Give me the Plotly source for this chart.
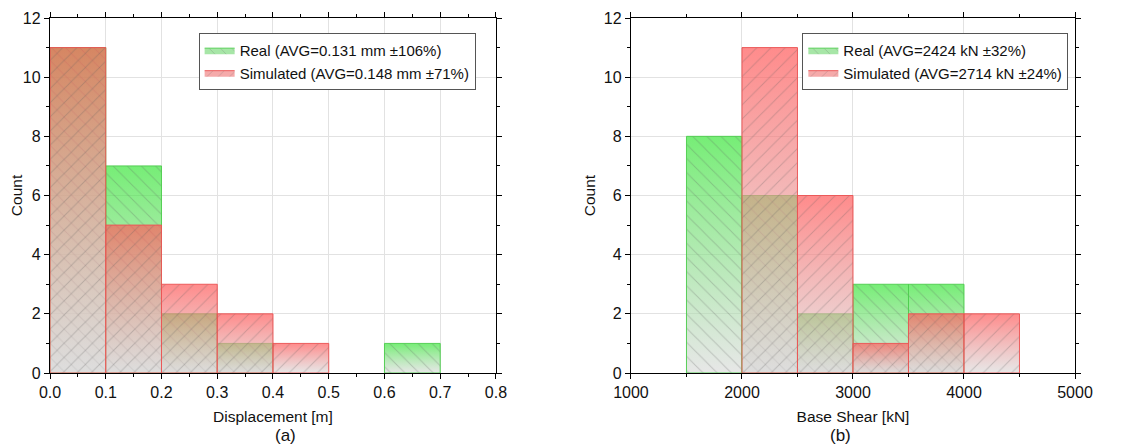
import plotly.graph_objects as go

# ---------------- data ----------------
disp_bin_left = [0.0, 0.1, 0.2, 0.3, 0.4, 0.5, 0.6, 0.7]
disp_real = [11, 7, 2, 1, 0, 0, 1, 0]
disp_sim = [11, 5, 3, 2, 1, 0, 0, 0]
disp_width = 0.1

shear_bin_left = [1500, 2000, 2500, 3000, 3500, 4000]
shear_real = [8, 6, 2, 3, 3, 0]
shear_sim = [0, 11, 6, 1, 2, 2]
shear_width = 500

real_label_a = "Real (AVG=0.131 mm ±106%)"
sim_label_a = "Simulated (AVG=0.148 mm ±71%)"
real_label_b = "Real (AVG=2424 kN ±32%)"
sim_label_b = "Simulated (AVG=2714 kN ±24%)"

# ---------------- styles ----------------
GREY = "rgba(215,215,215,0.6)"
REAL_TOP = "rgba(60,230,60,0.7)"
SIM_TOP = "rgba(255,90,90,0.7)"
REAL_LINE = "rgba(80,205,80,0.95)"
SIM_LINE = "rgba(235,85,85,0.95)"
HATCH = "rgba(90,90,90,0.55)"
FONT = "Liberation Sans, Arial, sans-serif"

fig = go.Figure()


def add_series(lefts, counts, width, top, line, shape, name, xa, ya, legend):
    for left, c in zip(lefts, counts):
        if c <= 0:
            continue
        xs = [left, left + width, left + width, left, left]
        ys = [0, 0, c, c, 0]
        fig.add_trace(go.Scatter(
            x=xs, y=ys, mode="lines", fill="toself",
            fillgradient=dict(type="vertical",
                              colorscale=[[0, GREY], [1, top]],
                              start=0, stop=c),
            line=dict(color="rgba(0,0,0,0)", width=0),
            name=name, legendgroup=name, showlegend=False,
            legend=legend, xaxis=xa, yaxis=ya, hoverinfo="skip"))
        fig.add_trace(go.Scatter(
            x=xs, y=ys, mode="lines", fill="toself",
            fillcolor="rgba(0,0,0,0)",
            fillpattern=dict(shape=shape, fgcolor=HATCH,
                             bgcolor="rgba(0,0,0,0)", size=10, solidity=0.1),
            line=dict(color=line, width=1),
            name=name, legendgroup=name, showlegend=False,
            legend=legend, xaxis=xa, yaxis=ya, hoverinfo="skip"))
    # legend entry
    fig.add_trace(go.Scatter(
        x=[None], y=[None], mode="lines", fill="toself",
        fillgradient=dict(type="vertical", colorscale=[[0, GREY], [1, top]]),
        fillpattern=dict(shape=shape, fgcolor=HATCH, size=8, solidity=0.1),
        line=dict(color=line, width=1),
        name=name, legendgroup=name, showlegend=True,
        legend=legend, xaxis=xa, yaxis=ya))


add_series(disp_bin_left, disp_real, disp_width, REAL_TOP, REAL_LINE, "\\", real_label_a, "x", "y", "legend")
add_series(disp_bin_left, disp_sim, disp_width, SIM_TOP, SIM_LINE, "/", sim_label_a, "x", "y", "legend")
add_series(shear_bin_left, shear_real, shear_width, REAL_TOP, REAL_LINE, "\\", real_label_b, "x2", "y2", "legend2")
add_series(shear_bin_left, shear_sim, shear_width, SIM_TOP, SIM_LINE, "/", sim_label_b, "x2", "y2", "legend2")

axis_common = dict(
    showline=True, linecolor="black", linewidth=1.3, mirror="ticks",
    ticks="outside", ticklen=5, tickwidth=1, tickcolor="black",
    showgrid=True, gridcolor="#e2e2e2", gridwidth=1, zeroline=False,
    tickfont=dict(family=FONT, size=16, color="#111"),
    automargin=False,
)
minor_x = dict(ticks="outside", ticklen=3, tickcolor="black", showgrid=False)

# figure is placed 8px in from the page's top-left corner
L0, L1 = 0.0, 0.4351
R0, R1 = 0.5668, 1.0

legend_common = dict(
    bgcolor="white", bordercolor="#555", borderwidth=1,
    font=dict(family=FONT, size=15, color="#111"),
    xanchor="left", yanchor="top", tracegroupgap=0, itemwidth=30,
)

TFONT = dict(family=FONT, size=15.5, color="#111")

fig.update_layout(
    width=1124, height=438,
    margin=dict(l=42, r=57, t=10, b=73, autoexpand=False),
    paper_bgcolor="white", plot_bgcolor="white",
    font=dict(family=FONT, size=14, color="#111"),
    xaxis=dict(axis_common, domain=[L0, L1], range=[0, 0.8], dtick=0.1,
               tick0=0, tickformat=".1f", minor=dict(minor_x, dtick=0.05),
               title=dict(text="Displacement [m]", standoff=10, font=TFONT),
               anchor="y"),
    yaxis=dict(axis_common, range=[0, 12], dtick=2, tick0=0,
               minor=dict(minor_x, dtick=1),
               title=dict(text="Count", standoff=4, font=TFONT),
               anchor="x"),
    xaxis2=dict(axis_common, domain=[R0, R1], range=[1000, 5000], dtick=1000,
                tick0=1000, minor=dict(minor_x, dtick=500),
                title=dict(text="Base Shear [kN]", standoff=10, font=TFONT),
                anchor="y2"),
    yaxis2=dict(axis_common, range=[0, 12], dtick=2, tick0=0,
                minor=dict(minor_x, dtick=1),
                title=dict(text="Count", standoff=4, font=TFONT),
                anchor="x2"),
    legend=dict(legend_common, x=0.145, y=0.958),
    legend2=dict(legend_common, x=0.734, y=0.958),
    annotations=[
        dict(text="(a)", x=(L0 + L1) / 2, y=-0.175, xref="paper", yref="paper",
             yanchor="middle", showarrow=False, font=dict(family=FONT, size=17, color="#111")),
        dict(text="(b)", x=(R0 + R1) / 2, y=-0.175, xref="paper", yref="paper",
             yanchor="middle", showarrow=False, font=dict(family=FONT, size=17, color="#111")),
    ],
    showlegend=True,
)

fig.write_html("out.html")
